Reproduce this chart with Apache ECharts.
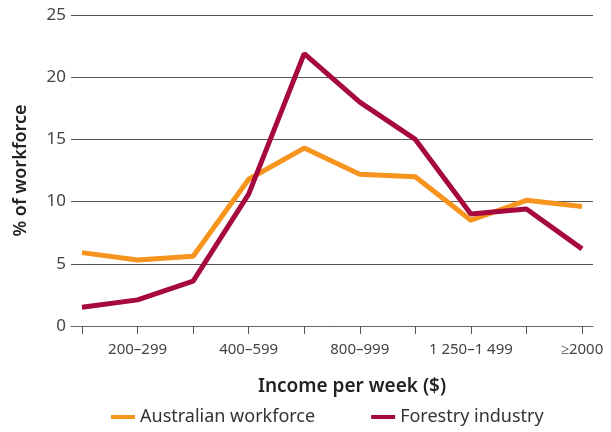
<!DOCTYPE html>
<html>
<head>
<meta charset="utf-8">
<script src="https://cdn.jsdelivr.net/npm/echarts@6/dist/echarts.min.js"></script>
<style>
  html, body { margin: 0; padding: 0; background: #fff; }
  #chart { width: 611px; height: 432px; }
</style>
</head>
<body>
<div id="chart"></div>
<script>
// income bands (every second one is labelled on the axis)
const incomeBands = [
  '1–199', '200–299', '300–399', '400–599', '600–799',
  '800–999', '1 000–1 249', '1 250–1 499', '1 500–1 999', '≥2000'
];
const australianWorkforce = [5.9, 5.3, 5.6, 11.8, 14.3, 12.2, 12.0, 8.5, 10.1, 9.6];
const forestryIndustry = [1.5, 2.1, 3.6, 10.6, 21.9, 18.0, 15.0, 9.0, 9.4, 6.2];
const yTicks = [0, 5, 10, 15, 20, 25];

const FONT = 'Noto Sans';
const chart = echarts.init(document.getElementById('chart'));

chart.setOption({
  animation: false,
  backgroundColor: '#fff',
  textStyle: { fontFamily: FONT },
  legend: {
    bottom: 1,
    left: 106,
    itemWidth: 24,
    itemHeight: 4,
    itemGap: 56,
    icon: 'rect',
    textStyle: { fontSize: 18, color: '#333', fontFamily: FONT },
    data: ['Australian workforce', 'Forestry industry']
  },
  grid: [
    // wide grid: gridlines + baseline
    { left: 71, right: 18, top: 15, bottom: 106 },
    // data grid: points sit on the ticks
    { left: 82, right: 29, top: 15, bottom: 106 }
  ],
  xAxis: [
    {
      gridIndex: 0,
      type: 'category',
      data: incomeBands,
      axisLine: { lineStyle: { color: '#666', width: 1 } },
      axisTick: { show: false },
      axisLabel: { show: false }
    },
    {
      gridIndex: 1,
      type: 'category',
      data: incomeBands,
      boundaryGap: false,
      name: 'Income per week ($)',
      nameLocation: 'middle',
      nameGap: 51,
      nameTextStyle: {
        fontSize: 19, fontWeight: 600, color: '#222', fontFamily: FONT,
        padding: [0, 0, 0, 40]
      },
      axisLine: { show: false },
      axisTick: { show: true, alignWithLabel: true, interval: 0, length: 8, lineStyle: { color: '#555' } },
      axisLabel: {
        interval: (i) => i % 2 === 1,
        fontSize: 15,
        color: '#444',
        margin: 16,
        fontFamily: FONT
      }
    }
  ],
  yAxis: [
    {
      gridIndex: 0,
      type: 'value',
      min: yTicks[0],
      max: yTicks[yTicks.length - 1],
      interval: 5,
      name: '% of workforce',
      nameLocation: 'middle',
      nameGap: 41,
      nameTextStyle: { fontSize: 18, fontWeight: 600, color: '#222', fontFamily: FONT },
      axisLine: { show: false },
      axisTick: { show: false },
      axisLabel: { fontSize: 17, color: '#444', margin: 5, fontFamily: FONT },
      splitLine: { lineStyle: { color: '#555', width: 1 } }
    },
    {
      gridIndex: 1,
      type: 'value',
      min: yTicks[0],
      max: yTicks[yTicks.length - 1],
      interval: 5,
      show: false,
      splitLine: { show: false }
    }
  ],
  series: [
    {
      name: 'Australian workforce',
      type: 'line',
      xAxisIndex: 1,
      yAxisIndex: 1,
      data: australianWorkforce,
      symbol: 'none',
      color: '#F7941D',
      lineStyle: { width: 5, color: '#F7941D' }
    },
    {
      name: 'Forestry industry',
      type: 'line',
      xAxisIndex: 1,
      yAxisIndex: 1,
      data: forestryIndustry,
      symbol: 'none',
      color: '#A6093D',
      lineStyle: { width: 5, color: '#A6093D' }
    }
  ]
});
</script>
</body>
</html>
